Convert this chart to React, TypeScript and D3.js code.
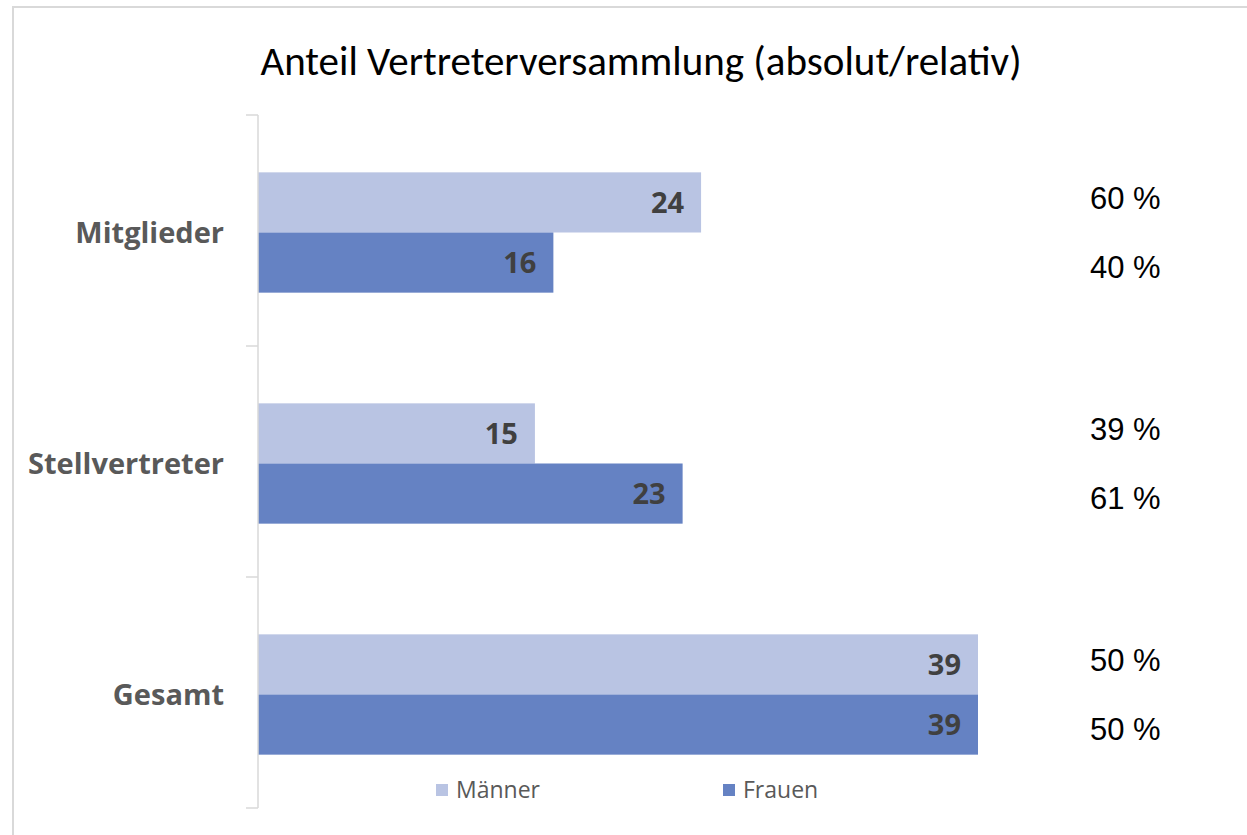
import * as d3 from 'd3'

const categories = ['Mitglieder', 'Stellvertreter', 'Gesamt']
const maenner = [24, 15, 39]
const frauen = [16, 23, 39]
const maennerPct = ['60 %', '39 %', '50 %']
const frauenPct = ['40 %', '61 %', '50 %']
const seriesNames = ['Männer', 'Frauen']
const seriesColors = ['#B9C4E3', '#6582C3']

const width = 1247
const height = 835

export default function App() {
  const margin = { top: 115, bottom: 27, left: 258 }
  const x = d3.scaleLinear().domain([0, 39]).range([margin.left, 978])
  const y = d3
    .scaleBand<string>()
    .domain(categories)
    .range([margin.top, height - margin.bottom])
  const inner = d3
    .scaleBand<string>()
    .domain(seriesNames)
    .range([2, y.bandwidth() + 2])
    .paddingOuter(0.92)
    .paddingInner(0)

  const values = [maenner, frauen]
  const pcts = [maennerPct, frauenPct]
  const ticks = [...categories.map((c) => y(c) ?? 0), y.range()[1]]

  return (
    <svg
      width={width}
      height={height}
      style={{ position: 'absolute', left: 0, top: 0, background: '#fff' }}
    >
      <rect x={13} y={7} width={width} height={height} fill="#fff" stroke="#d9d9d9" strokeWidth={2} />
      <text
        x={641}
        y={75}
        textAnchor="middle"
        fontFamily="Carlito, 'Liberation Sans Narrow', 'Open Sans', sans-serif"
        fontSize={41}
        fill="#000"
      >
        Anteil Vertreterversammlung (absolut/relativ)
      </text>

      {categories.map((c, i) => (
        <g key={c}>
          {seriesNames.map((s, j) => {
            const by = (y(c) ?? 0) + (inner(s) ?? 0)
            const bh = inner.bandwidth()
            const v = values[j][i]
            return (
              <g key={s}>
                <rect x={x(0)} y={by} width={x(v) - x(0)} height={bh} fill={seriesColors[j]} />
                <text
                  x={x(v) - 17}
                  y={by + bh / 2}
                  dy="0.36em"
                  textAnchor="end"
                  fontFamily="'Open Sans', sans-serif"
                  fontWeight={700}
                  fontSize={29}
                  fill="#404040"
                >
                  {v}
                </text>
                <text
                  x={1090}
                  y={by + bh / 2 + (j === 0 ? -5 : 4)}
                  dy="0.36em"
                  fontFamily="'Liberation Sans', Arial, sans-serif"
                  fontSize={31}
                  fill="#000"
                >
                  {pcts[j][i]}
                </text>
              </g>
            )
          })}
          <text
            x={224}
            y={(y(c) ?? 0) + y.bandwidth() / 2 + 2}
            dy="0.36em"
            textAnchor="end"
            fontFamily="'Open Sans', sans-serif"
            fontWeight={700}
            fontSize={29}
            fill="#595959"
          >
            {c}
          </text>
        </g>
      ))}

      <line x1={x(0)} x2={x(0)} y1={y.range()[0]} y2={y.range()[1]} stroke="#d9d9d9" strokeWidth={1.5} />
      {ticks.map((t) => (
        <line key={t} x1={x(0) - 12} x2={x(0)} y1={t} y2={t} stroke="#d9d9d9" strokeWidth={1.5} />
      ))}

      {seriesNames.map((s, j) => {
        const lx = j === 0 ? 436 : 723
        return (
          <g key={s}>
            <rect x={lx} y={784} width={12} height={12} fill={seriesColors[j]} />
            <text
              x={lx + 20}
              y={790}
              dy="0.36em"
              fontFamily="'Open Sans', sans-serif"
              fontSize={23}
              fill="#595959"
            >
              {s}
            </text>
          </g>
        )
      })}
    </svg>
  )
}
